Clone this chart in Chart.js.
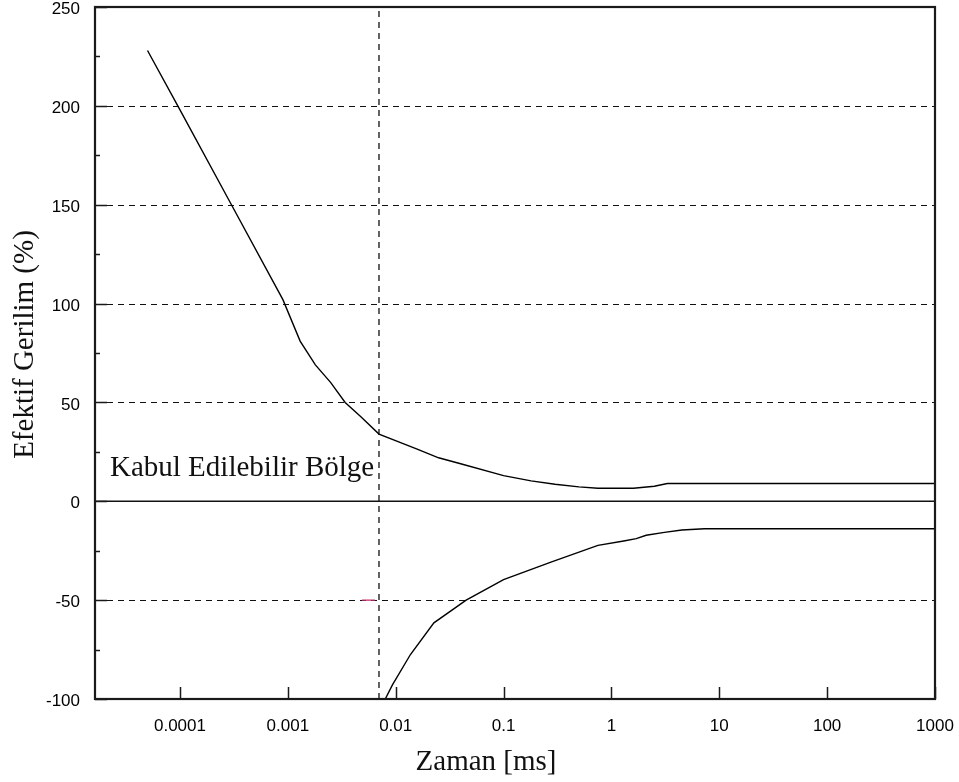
<!DOCTYPE html>
<html lang="tr">
<head>
<meta charset="utf-8">
<title>Efektif Gerilim</title>
<script src="https://cdn.jsdelivr.net/npm/chart.js@4.4.1/dist/chart.umd.min.js"></script>
<style>
  html, body { margin: 0; padding: 0; background: #fff; overflow: hidden; }
  canvas { display: block; }
</style>
</head>
<body>
<canvas id="c" width="959" height="782"></canvas>
<script>
// Upper limit curve (time in ms, effective voltage in %)
const upperTime  = [5.0e-5, 1.0e-4, 3.0e-4, 9.0e-4, 1.3e-3, 1.8e-3, 2.5e-3, 3.4e-3, 4.7e-3, 7.0e-3, 0.0156, 0.025, 0.04, 0.1, 0.18, 0.3, 0.5, 0.75, 1.6, 2.5, 3.3, 1000];
const upperValue = [228,    198,    150,    102,    81,     69,     60,     50,     43,     34,     26.5,   22,    19,   13,  10.3, 8.6, 7.3, 6.6,  6.6, 7.6, 9.0, 9.0];

// Lower limit curve
const lowerTime  = [8.0e-3, 9.3e-3, 0.0137, 0.0226, 0.045, 0.1,   0.275, 0.75,  1.3,   1.7,   2.1,   3.1,   4.5,   7.3,   1000];
const lowerValue = [-100,   -93,    -77.5,  -61.5,  -50,   -39.6, -30.8, -22.3, -20.1, -18.9, -17.2, -15.7, -14.5, -13.9, -13.9];

// Dashed vertical marker time and the short magenta stub at -50 %
const markerTime = 0.007;
const stubTime   = [0.00486, 0.00643];
const stubValue  = [-50, -50];

// Axis ranges and ticks
const xMin = 1.63e-5, xMax = 1000;
const yMin = -100, yMax = 250;
const xTickValues = [1e-4, 1e-3, 1e-2, 1e-1, 1, 10, 100, 1000];
const xTickLabels = ['0.0001', '0.001', '0.01', '0.1', '1', '10', '100', '1000'];
const yTickValues = [250, 200, 150, 100, 50, 0, -50, -100];
const yTickLabels = ['250', '200', '150', '100', '50', '0', '-50', '-100'];
const yMinorValues = [225, 175, 125, 75, 25, -25, -75];

const regionLabel = 'Kabul Edilebilir Bölge';
const xTitle = 'Zaman [ms]';
const yTitle = 'Efektif Gerilim (%)';

const pts = (xs, ys) => xs.map((x, i) => ({ x, y: ys[i] }));

const SERIF = "'Liberation Serif', 'Times New Roman', serif";
const SANS = "'Liberation Sans', Arial, sans-serif";

// Gridlines, frame, inward tick marks and text
const decor = {
  id: 'decor',
  beforeDatasetsDraw(chart) {
    const { ctx, chartArea: a, scales: { x, y } } = chart;
    ctx.save();
    ctx.strokeStyle = '#111';
    ctx.lineWidth = 1;
    ctx.setLineDash([6, 5]);
    yTickValues.filter(v => v !== 0 && v !== yMin && v !== yMax).forEach(v => {
      const py = Math.round(y.getPixelForValue(v)) + 0.5;
      ctx.beginPath();
      ctx.moveTo(a.left + 12, py);
      ctx.lineTo(a.right, py);
      ctx.stroke();
    });
    ctx.setLineDash([]);
    ctx.lineWidth = 1.6;
    const zy = y.getPixelForValue(0);
    ctx.beginPath();
    ctx.moveTo(a.left, zy);
    ctx.lineTo(a.right, zy);
    ctx.stroke();
    ctx.restore();
  },
  afterDatasetsDraw(chart) {
    const { ctx, chartArea: a, scales: { x, y } } = chart;
    ctx.save();
    ctx.strokeStyle = '#1a1a1a';
    // inward tick marks
    ctx.lineWidth = 1.5;
    yTickValues.forEach(v => {
      const py = Math.round(y.getPixelForValue(v)) + 0.5;
      ctx.beginPath(); ctx.moveTo(a.left, py); ctx.lineTo(a.left + 12, py); ctx.stroke();
    });
    yMinorValues.forEach(v => {
      const py = Math.round(y.getPixelForValue(v)) + 0.5;
      ctx.beginPath(); ctx.moveTo(a.left, py); ctx.lineTo(a.left + 5, py); ctx.stroke();
    });
    xTickValues.forEach(v => {
      const px = Math.round(x.getPixelForValue(v)) + 0.5;
      ctx.beginPath(); ctx.moveTo(px, a.bottom); ctx.lineTo(px, a.bottom - 12); ctx.stroke();
    });
    // frame
    ctx.lineWidth = 2.2;
    ctx.strokeRect(a.left, a.top, a.right - a.left, a.bottom - a.top);

    // texts
    ctx.fillStyle = '#111';
    ctx.font = '29px ' + SERIF;
    ctx.textAlign = 'left';
    ctx.textBaseline = 'alphabetic';
    ctx.fillText(regionLabel, a.left + 15, y.getPixelForValue(0) - 25);

    ctx.textAlign = 'center';
    ctx.fillText(xTitle, a.left + 391, 770);

    ctx.translate(33, 344.5);
    ctx.rotate(-Math.PI / 2);
    ctx.fillText(yTitle, 0, 0);
    ctx.restore();
  }
};

new Chart(document.getElementById('c'), {
  type: 'line',
  data: {
    datasets: [
      { data: pts(upperTime, upperValue), borderColor: '#000', borderWidth: 1.4 },
      { data: pts(lowerTime, lowerValue), borderColor: '#000', borderWidth: 1.4 },
      { data: pts([markerTime, markerTime], [yMin, yMax]), borderColor: '#111', borderWidth: 1.3, borderDash: [6, 5] },
      { data: pts(stubTime, stubValue), borderColor: '#c2306e', borderWidth: 1.3 }
    ]
  },
  options: {
    responsive: false,
    devicePixelRatio: 1,
    animation: false,
    events: [],
    parsing: true,
    elements: { point: { radius: 0 }, line: { tension: 0, fill: false } },
    layout: { padding: { left: 0, right: 24, top: 7, bottom: 0 } },
    plugins: { legend: { display: false }, tooltip: { enabled: false } },
    scales: {
      x: {
        type: 'logarithmic',
        position: 'bottom',
        min: xMin,
        max: xMax,
        grid: { display: false, drawTicks: false },
        border: { display: false },
        afterBuildTicks: s => { s.ticks = xTickValues.map(v => ({ value: v })); },
        afterFit: s => { s.height = 83; s.paddingLeft = 0; s.paddingRight = 0; },
        ticks: {
          autoSkip: false,
          maxRotation: 0,
          minRotation: 0,
          padding: 17,
          color: '#000',
          font: { family: SANS, size: 17 },
          callback: (v, i) => xTickLabels[i]
        }
      },
      y: {
        type: 'linear',
        min: yMin,
        max: yMax,
        grid: { display: false, drawTicks: false },
        border: { display: false },
        afterBuildTicks: s => { s.ticks = yTickValues.map(v => ({ value: v })); },
        afterFit: s => { s.width = 95; s.paddingTop = 0; s.paddingBottom = 0; },
        ticks: {
          autoSkip: false,
          padding: 15,
          labelOffset: 2.5,
          color: '#000',
          font: { family: SANS, size: 17 },
          callback: (v, i) => yTickLabels[i]
        }
      }
    }
  },
  plugins: [decor]
});
</script>
</body>
</html>
